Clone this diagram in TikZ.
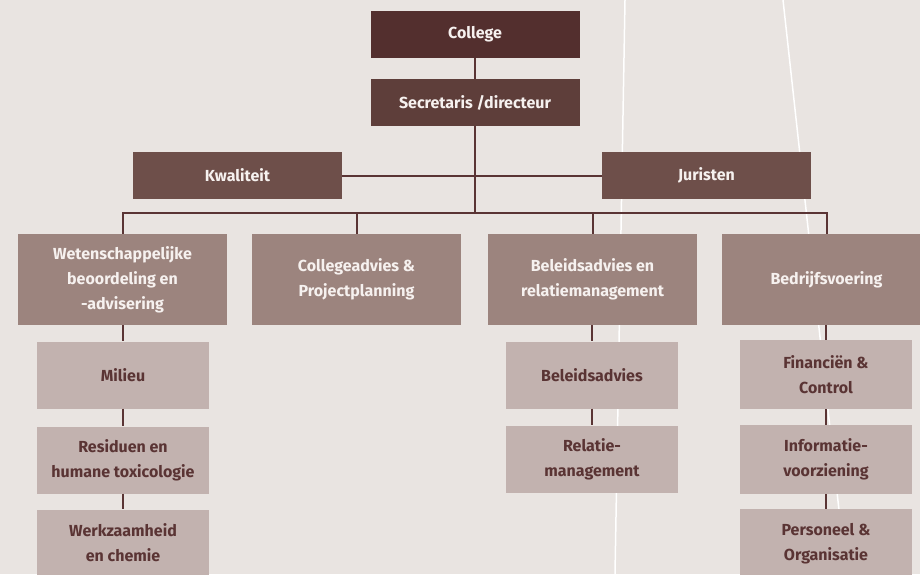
\documentclass[tikz,border=0pt]{standalone}
\usepackage{fontspec}
\setmainfont{Fira Sans}
\definecolor{bg}{HTML}{E9E4E1}
\definecolor{darkest}{HTML}{532F2E}
\definecolor{dark}{HTML}{5E3E3A}
\definecolor{mid}{HTML}{6E4F4A}
\definecolor{light}{HTML}{9C847E}
\definecolor{lightest}{HTML}{C2B2AF}
\definecolor{linecol}{HTML}{5A3434}
\definecolor{txtlight}{HTML}{F6F1EF}
\tikzset{
  box/.style={inner sep=0pt,align=center,font=\bfseries\fontsize{16}{25}\selectfont},
  lvltop/.style={box,fill=darkest,text=txtlight,minimum width=209pt,minimum height=47pt},
  lvlsec/.style={lvltop,fill=dark},
  lvlstaff/.style={lvltop,fill=mid},
  lvltwo/.style={box,fill=light,text=txtlight,minimum width=209pt,minimum height=91pt},
  lvlthree/.style={box,fill=lightest,text=linecol,minimum width=172pt,minimum height=67pt},
  link/.style={draw=linecol,line width=2pt},
  sheet/.style={draw=white,line width=1.5pt}
}
\begin{document}
\begin{tikzpicture}[x=1pt,y=-1pt]
  \useasboundingbox (0,0) rectangle (920,574);
  \fill[bg] (0,0) rectangle (920,574);
  % background sheets
  \draw[sheet] (625,0) -- (615,574);
  \draw[sheet] (783,0) -- (846,574);

  % top
  \node[lvltop,at={(475,34.5)}] (college) {College};
  \node[lvlsec,at={(475,102.5)}] (secr) {Secretaris /directeur};
  \node[lvlstaff,at={(237.5,175.5)}] (kwal) {Kwaliteit};
  \node[lvlstaff,at={(706.5,175.5)}] (jur) {Juristen};
  \coordinate (bus) at (475,213);

  % departments
  \node[lvltwo,at={(122.5,279.5)}] (wbe) {Wetenschappelijke\\beoordeling en\\-advisering};
  \node[lvltwo,at={(356.5,279.5)}] (cpp) {Collegeadvies \&\\Projectplanning};
  \node[lvltwo,at={(592.5,279.5)}] (bra) {Beleidsadvies en\\relatiemanagement};
  \node[lvltwo,at={(826.5,279.5)}] (bvo) {Bedrijfsvoering};

  % units
  \node[lvlthree,at={(123,375)}] (milieu) {Milieu};
  \node[lvlthree,at={(123,460)}] (residu) {Residuen en\\humane toxicologie};
  \node[lvlthree,at={(123,543)}] (werk) {Werkzaamheid\\en chemie};
  \node[lvlthree,at={(592,375)}] (beleid) {Beleidsadvies};
  \node[lvlthree,at={(592,459)}] (relatie) {Relatie-\\management};
  \node[lvlthree,minimum height=69pt,at={(826,374.5)}] (fin) {Financiën \&\\Control};
  \node[lvlthree,minimum height=69pt,at={(826,459.5)}] (info) {Informatie-\\voorziening};
  \node[lvlthree,minimum height=69pt,at={(826,543.5)}] (pers) {Personeel \&\\Organisatie};

  % links
  \draw[link] (college) -- (secr);
  \draw[link] (kwal) -- (jur);
  \draw[link] (secr) -- (bus);
  \draw[link] (wbe.north) |- (bvo.north |- bus) -- (bvo.north);
  \draw[link] (cpp.north) -- (cpp.north |- bus);
  \draw[link] (bra.north) -- (bra.north |- bus);
  \draw[link] (wbe.south -| milieu) -- (milieu) (milieu) -- (residu) (residu) -- (werk);
  \draw[link] (bra.south -| beleid) -- (beleid) (beleid) -- (relatie);
  \draw[link] (bvo.south -| fin) -- (fin) (fin) -- (info) (info) -- (pers);
\end{tikzpicture}
\end{document}
